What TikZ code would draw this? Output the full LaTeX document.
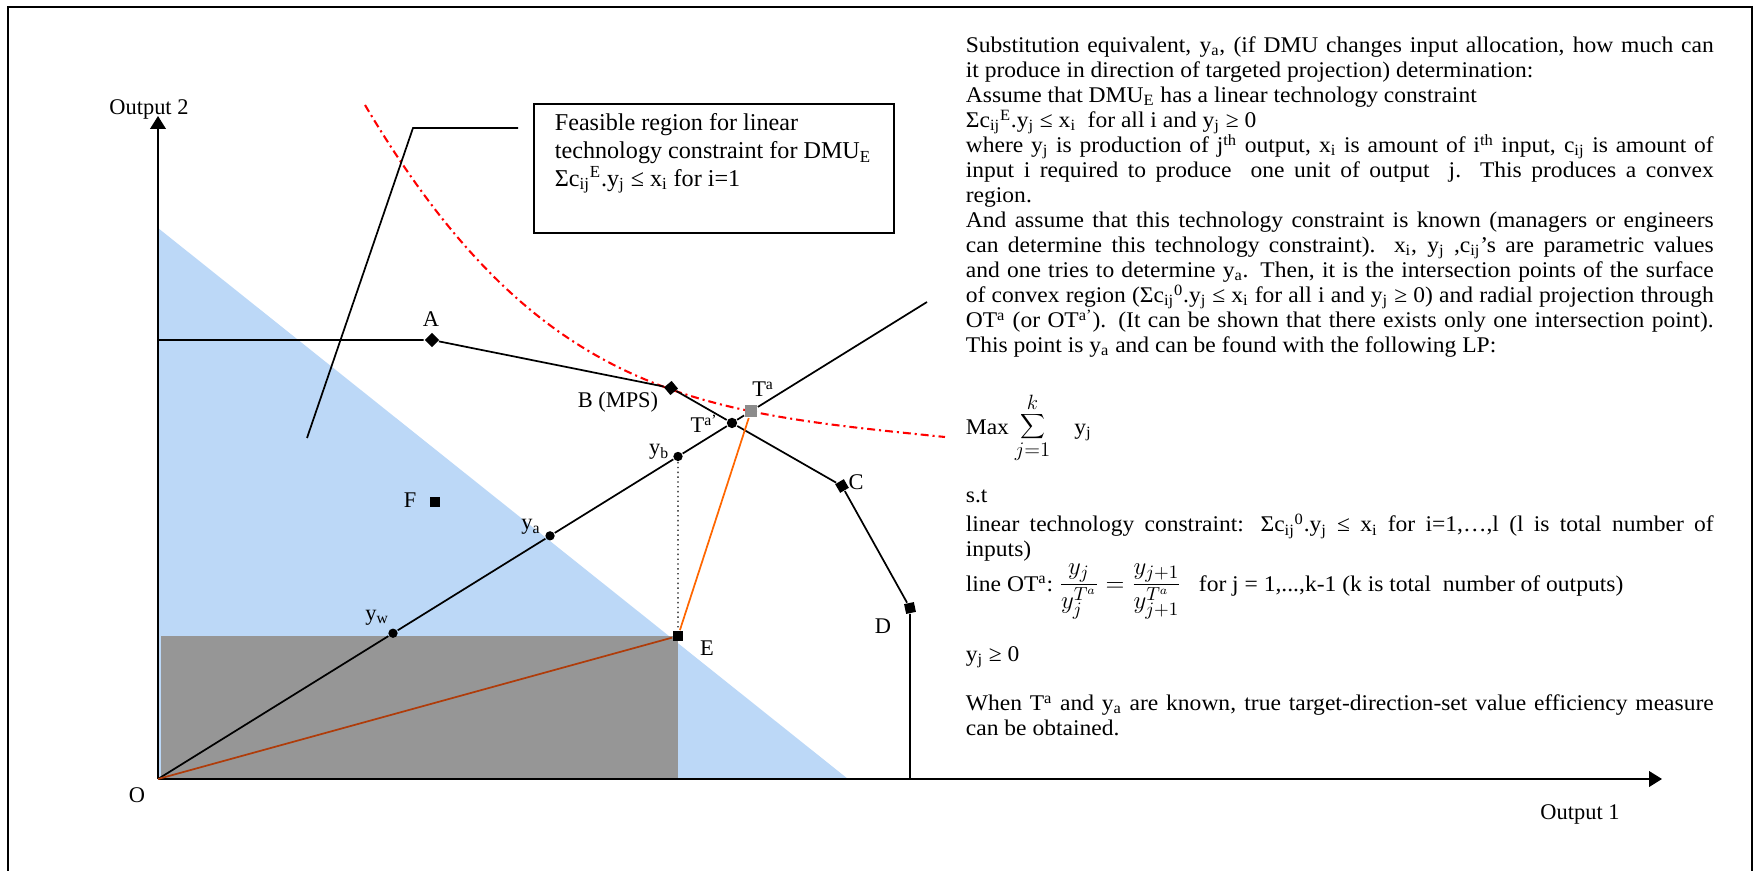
\documentclass[tikz,border=0pt]{standalone}
\usepackage{fontspec}
\setmainfont{Liberation Serif}
\newfontfamily\notefont{Liberation Serif}[FakeStretch=1.05]
\usetikzlibrary{arrows.meta,calc}
\setlength{\parindent}{0pt}
\definecolor{feasblue}{RGB}{188,216,247}
\definecolor{boxgray}{RGB}{150,150,150}
\definecolor{tagray}{RGB}{140,140,140}
\definecolor{rayorange}{RGB}{255,102,0}
\definecolor{raybrown}{RGB}{175,60,10}
\newcommand{\sbs}[1]{\textsubscript{#1}}
\newcommand{\sps}[1]{\textsuperscript{#1}}

\begin{document}
\begin{tikzpicture}[x=0.58pt,y=-0.58pt,line width=1pt]
\tikzset{dmu/.style={rectangle,fill,inner sep=0pt,minimum size=5.8pt}}
\tikzset{dot/.style={circle,fill,inner sep=0pt,minimum size=5.4pt}}
\tikzset{lbl/.style={inner sep=0pt,anchor=base,font=\fontsize{13}{15}\selectfont}}
\tikzset{axis/.style={line width=1.2pt,-{Triangle[length=7.5pt,width=9pt]}}}
\tikzset{txt/.style={inner sep=0pt,anchor=north west,text width=433.8pt,align=justify,font=\notefont\fontsize{13}{14.5}\selectfont}}
\tikzset{oneline/.style={inner sep=0pt,anchor=base west,font=\notefont\fontsize{13}{14.5}\selectfont}}

\useasboundingbox (0,0) rectangle (1759,871);
\draw (8,871) -- (8,7) -- (1752,7) -- (1752,871);

\path (158,779) coordinate (O);
\path (158,116) coordinate (ytip);
\path (1662,779) coordinate (xtip);
\path (927,302) coordinate (rayend);
\path (678,636) coordinate (e);
\path (158,340) coordinate (yA);
\path (910,779) coordinate (Dfoot);

\fill[feasblue] (O) -- (158,228) -- (848,779) -- cycle;
\fill[boxgray] (161,779) rectangle (e);

\draw[axis] (O) -- (ytip);
\draw[axis] (O) -- (xtip);

\draw[red,line width=1.2pt,dash pattern=on 4.6pt off 2.3pt on 1.2pt off 2.3pt]
  (365,105) .. controls (540,400) and (700,412) .. (945,437);

\path (432,340) node[dmu,rotate=45] (A) {};
\path (671,388) node[dmu,rotate=40] (B) {};
\path (842,486) node[dmu,rotate=30] (C) {};
\path (910,608) node[dmu,rotate=12] (D) {};
\path (e) node[dmu] (E) {};
\path (435,502) node[dmu] (F) {};
\path ($(O)!0.3056!(rayend)$) node[dot] (yw) {};
\path ($(O)!0.5098!(rayend)$) node[dot] (ya) {};
\path ($(O)!0.6762!(rayend)$) node[dot] (yb) {};
\path (intersection of O--rayend and B--C) node[dot,minimum size=6pt] (Tap) {};
\path ($(O)!0.7711!(rayend)$) node[rectangle,fill=tagray,inner sep=0pt,minimum size=7pt] (Ta) {};

\draw (yA) -- (A) -- (B) -- (Tap) -- (C) -- (D) -- (Dfoot);
\draw (O) -- (yw) -- (ya) -- (yb) -- (Tap) -- (Ta) -- (rayend);
\draw[raybrown] (O) -- (E);
\draw[rayorange] (E) -- (Ta);
\draw[dotted,line width=0.8pt] (yb) -- (E);

\node[lbl] (ylbl) at (149,115) {Output 2};
\node[lbl] (xlbl) at (1580,819) {Output 1};
\node[lbl] (Olbl) at (137,802) {O};
\node[lbl] (Albl) at (431,327) {A};
\node[lbl] (Blbl) at (618,408) {B (MPS)};
\node[lbl] (Clbl) at (856,489) {C};
\node[lbl] (Dlbl) at (883,633) {D};
\node[lbl] (Elbl) at (707,655) {E};
\node[lbl] (Flbl) at (410,507) {F};
\node[lbl] (yalbl) at (531,530) {y\sbs{a}};
\node[lbl] (yblbl) at (659,455) {y\sbs{b}};
\node[lbl] (ywlbl) at (377,620) {y\sbs{w}};
\node[lbl] (Talbl) at (763,397) {T\sps{a}};
\node[lbl] (Taplbl) at (704,433) {T\sps{a’}};

\node[draw,inner sep=0pt,minimum width=208.8pt,minimum height=74.8pt,anchor=north west] (callout) at (533,103) {};
\node[inner sep=0pt,anchor=north west,align=left,font=\fontsize{14}{16}\selectfont] (callouttxt) at ([shift={(21,10)}]callout.north west)
  {Feasible region for linear\\technology constraint for DMU\sbs{E}\\Σc\sbs{ij}\sps{E}.y\sbs{j} ≤ x\sbs{i} for i=1};
\path (518,128) coordinate (lead);
\path (413,128) coordinate (knee);
\path (307,438) coordinate (pointer);
\draw (lead) -- (knee) -- (pointer);

\node[txt] (subst) at (965,36) {Substitution equivalent, y\sbs{a}, (if DMU changes input allocation, how much can\linebreak
it produce in direction of targeted projection) determination:\par
Assume that DMU\sbs{E} has a linear technology constraint\par
Σc\sbs{ij}\sps{E}.y\sbs{j} ≤ x\sbs{i}\ \ for all i and y\sbs{j} ≥ 0\par
where y\sbs{j} is production of j\sps{th} output, x\sbs{i} is amount of i\sps{th} input, c\sbs{ij} is amount of\linebreak
input i required to produce\ \ one unit of output\ \ j. This produces a convex\linebreak
region.\par
And assume that this technology constraint is known (managers or engineers\linebreak
can determine this technology constraint). x\sbs{i}, y\sbs{j} ,c\sbs{ij}’s are parametric values\linebreak
and one tries to determine y\sbs{a}. Then, it is the intersection points of the surface\linebreak
of convex region (Σc\sbs{ij}\sps{0}.y\sbs{j} ≤ x\sbs{i} for all i and y\sbs{j} ≥ 0) and radial projection through\linebreak
OT\sps{a} (or OT\sps{a’}). (It can be shown that there exists only one intersection point).\linebreak
This point is y\sbs{a} and can be found with the following LP:};

\node[oneline] (maxline) at (965,434) {Max\ {\fontsize{17}{20}\selectfont$\displaystyle\sum_{j=1}^{k}$}\hspace{14pt}y\sbs{j}};
\node[oneline] (stline) at (965,502) {s.t};
\node[txt] (constr) at (965,513) {linear technology constraint: Σc\sbs{ij}\sps{0}.y\sbs{j} ≤ x\sbs{i} for i=1,…,l (l is total number of\linebreak inputs)};
\node[oneline] (otline) at (965,591) {line OT\sps{a}:\ {\fontsize{15}{18}\selectfont$\displaystyle\frac{y_{j}}{y_{j}^{T^{a}}}=\frac{y_{j+1}}{y_{j+1}^{T^{a}}}$}\ \ \ for j = 1,...,k-1 (k is total\ \ number of outputs)};
\node[oneline] (posline) at (965,661) {y\sbs{j} ≥ 0};
\node[txt] (closing) at (965,694) {When T\sps{a} and y\sbs{a} are known, true target-direction-set value efficiency measure\linebreak can be obtained.};
\end{tikzpicture}
\end{document}
